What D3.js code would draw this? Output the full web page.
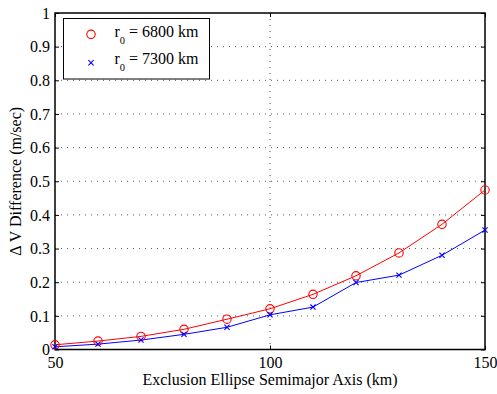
<!DOCTYPE html>
<html><head><meta charset="utf-8">
<script src="https://cdn.jsdelivr.net/npm/d3@7"></script>
<style>body{margin:0;background:#fff}svg{display:block}</style>
</head><body>
<script>
const xVals = [50, 60, 70, 80, 90, 100, 110, 120, 130, 140, 150];
const red6800 = [0.014, 0.025, 0.039, 0.060, 0.090, 0.121, 0.164, 0.219, 0.287, 0.372, 0.474];
const blue7300 = [0.008, 0.016, 0.028, 0.045, 0.066, 0.103, 0.126, 0.199, 0.221, 0.280, 0.355];
const xTicks = [50, 100, 150];
const yTicks = [0, 0.1, 0.2, 0.3, 0.4, 0.5, 0.6, 0.7, 0.8, 0.9, 1];
const seriesNames = ["6800", "7300"];

const W = 497, H = 394;
const m = {l: 55, r: 12, t: 13, b: 44.5};
const FONT = "Liberation Serif";
const fs = 16;
const svg = d3.select("body").append("svg").attr("width", W).attr("height", H)
  .attr("font-family", FONT);
const x = d3.scaleLinear().domain([50, 150]).range([m.l, W - m.r]);
const y = d3.scaleLinear().domain([0, 1]).range([H - m.b, m.t]);

// grid
const g = svg.append("g");
g.selectAll(".gy").data(yTicks.slice(1, -1)).join("line")
  .attr("x1", m.l).attr("x2", W - m.r).attr("y1", d => y(d)).attr("y2", d => y(d))
  .attr("stroke", "#444").attr("stroke-width", 0.9).attr("stroke-dasharray", "1,5");
g.selectAll(".gx").data(xTicks.slice(1, -1)).join("line")
  .attr("y1", m.t).attr("y2", H - m.b).attr("x1", d => x(d)).attr("x2", d => x(d))
  .attr("stroke", "#444").attr("stroke-width", 0.9).attr("stroke-dasharray", "1,5");

// axes
const tl = 4;
const axL = svg.append("g").attr("transform", `translate(${m.l},0)`)
  .call(d3.axisLeft(y).tickValues(yTicks).tickFormat(d => d3.format("~g")(d)).tickSizeInner(-tl).tickSizeOuter(0).tickPadding(5));
const axR = svg.append("g").attr("transform", `translate(${W - m.r},0)`)
  .call(d3.axisRight(y).tickValues(yTicks).tickFormat("").tickSizeInner(-tl).tickSizeOuter(0));
const axB = svg.append("g").attr("transform", `translate(0,${H - m.b})`)
  .call(d3.axisBottom(x).tickValues(xTicks).tickSizeInner(-tl).tickSizeOuter(0).tickPadding(18));
const axT = svg.append("g").attr("transform", `translate(0,${m.t})`)
  .call(d3.axisTop(x).tickValues(xTicks).tickFormat("").tickSizeInner(-tl).tickSizeOuter(0));
[axL, axR, axB, axT].forEach(a => {
  a.attr("font-family", FONT).attr("font-size", fs);
  a.select(".domain").remove();
  a.selectAll("line").attr("stroke", "#000");
  a.selectAll("text").attr("font-family", FONT).attr("font-size", fs).attr("fill", "#000");
});
axL.selectAll("text").attr("dy", "0.33em");
axB.selectAll("text").attr("dy", "0");

// box
svg.append("rect").attr("x", m.l).attr("y", m.t).attr("width", W - m.r - m.l).attr("height", H - m.b - m.t)
  .attr("fill", "none").attr("stroke", "#000").attr("stroke-width", 1.5);

// series
const line = d3.line().x((d, i) => x(xVals[i])).y(d => y(d));
svg.append("path").datum(red6800).attr("d", line).attr("fill", "none").attr("stroke", "#ff0000").attr("stroke-width", 1);
svg.append("path").datum(blue7300).attr("d", line).attr("fill", "none").attr("stroke", "#0000ff").attr("stroke-width", 1);
svg.selectAll(".c").data(red6800).join("circle")
  .attr("cx", (d, i) => x(xVals[i])).attr("cy", d => y(d)).attr("r", 4.2)
  .attr("fill", "none").attr("stroke", "#ff0000").attr("stroke-width", 1.1);
const xs = 2.6;
function xMark(sel, cx, cy) {
  sel.append("path").attr("d", `M${cx - xs},${cy - xs}L${cx + xs},${cy + xs}M${cx - xs},${cy + xs}L${cx + xs},${cy - xs}`)
    .attr("stroke", "#0000ff").attr("stroke-width", 1.1).attr("fill", "none");
}
blue7300.forEach((d, i) => xMark(svg, x(xVals[i]), y(d)));

// legend
const lg = svg.append("g");
lg.append("rect").attr("x", 63.5).attr("y", 18.5).attr("width", 146).attr("height", 60.5)
  .attr("fill", "#fff").attr("stroke", "#000").attr("stroke-width", 1);
lg.append("circle").attr("cx", 91).attr("cy", 34.3).attr("r", 4.2).attr("fill", "none").attr("stroke", "#ff0000").attr("stroke-width", 1.1);
xMark(lg, 91, 62.7);
const lt = [[36.7, seriesNames[0]], [63.5, seriesNames[1]]];
lt.forEach(([yy, name]) => {
  const t = lg.append("text").attr("x", 114.5).attr("y", yy).attr("font-family", FONT).attr("font-size", fs).attr("fill", "#000");
  t.append("tspan").text("r");
  t.append("tspan").attr("dy", 7).attr("font-size", 10.5).text("0");
  t.append("tspan").attr("dy", -7).text(` = ${name} km`);
});

// axis titles
svg.append("text").attr("x", (m.l + W - m.r) / 2).attr("y", 385).attr("text-anchor", "middle")
  .attr("font-family", FONT).attr("font-size", fs).text("Exclusion Ellipse Semimajor Axis (km)");
svg.append("text").attr("transform", `translate(21,${(m.t + H - m.b) / 2}) rotate(-90)`).attr("text-anchor", "middle")
  .attr("font-family", FONT).attr("font-size", fs).text("Δ V Difference (m/sec)");
</script>
</body></html>
